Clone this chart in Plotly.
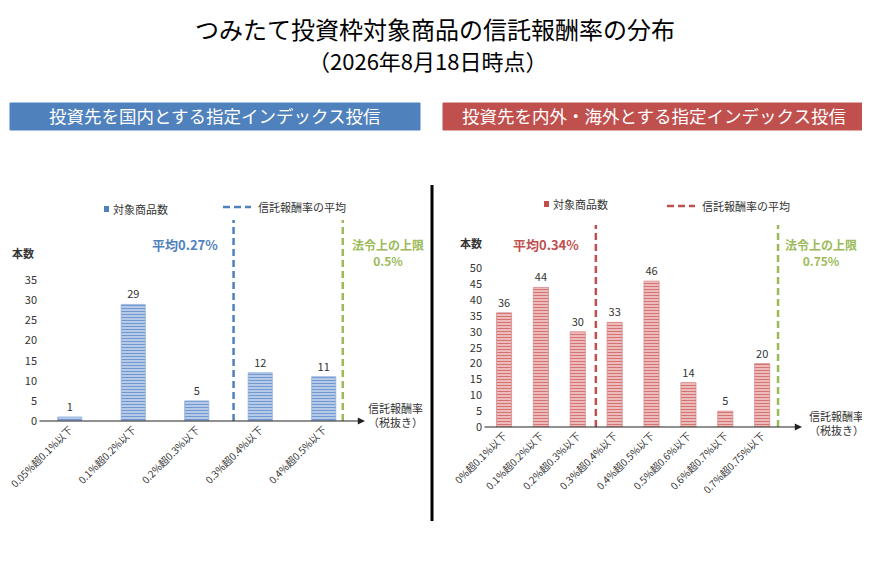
import plotly.graph_objects as pgo
from plotly.subplots import make_subplots

# Data
left_categories = ["0.05%超0.1%以下", "0.1%超0.2%以下", "0.2%超0.3%以下",
                   "0.3%超0.4%以下", "0.4%超0.5%以下"]
left_counts = [1, 29, 5, 12, 11]
left_mean_pos = 2.58     # position of the average line (category units)
left_limit_pos = 4.3     # position of the legal upper limit line

right_categories = ["0%超0.1%以下", "0.1%超0.2%以下", "0.2%超0.3%以下",
                    "0.3%超0.4%以下", "0.4%超0.5%以下", "0.5%超0.6%以下",
                    "0.6%超0.7%以下", "0.7%超0.75%以下"]
right_counts = [36, 44, 30, 33, 46, 14, 5, 20]
right_mean_pos = 2.49
right_limit_pos = 7.43

left_yticks = [0, 5, 10, 15, 20, 25, 30, 35]
right_yticks = [0, 5, 10, 15, 20, 25, 30, 35, 40, 45, 50]

# Page geometry helpers (pixels -> paper)
W, H = 870, 564
OFF = 8  # page body margin, the figure is drawn 8px in from the corner
FONT = "Noto Sans CJK JP"
BLUE = "#4F81BD"
RED = "#C0504D"
GREEN = "#9BBB59"
TXT = "#333333"


def px(x):
    return (x - OFF) / W


def py(y):
    return 1 - (y - OFF) / H


fig = make_subplots(rows=1, cols=2)

# Bars
fig.add_trace(
    pgo.Bar(x=list(range(len(left_counts))), y=left_counts, width=0.38,
            text=left_counts, textposition='outside', cliponaxis=False,
            textfont=dict(size=11, color=TXT),
            marker=dict(line=dict(color="#8FAEDD", width=0.8),
                        pattern=dict(shape='-', bgcolor="#CBDAF0", fgcolor="#7398D0",
                                     size=3, solidity=0.5, fillmode='replace'))),
    row=1, col=1
)
fig.add_trace(
    pgo.Bar(x=list(range(len(right_counts))), y=right_counts, width=0.41,
            text=right_counts, textposition='outside', cliponaxis=False,
            textfont=dict(size=11, color=TXT),
            marker=dict(line=dict(color="#D88A89", width=0.8),
                        pattern=dict(shape='-', bgcolor="#F6D3D3", fgcolor="#D47472",
                                     size=3, solidity=0.5, fillmode='replace'))),
    row=1, col=2
)

# Average and upper limit lines
for pos, color, top, col in [(left_mean_pos, BLUE, 50, 1), (left_limit_pos, GREEN, 50, 1),
                             (right_mean_pos, RED, 63.7, 2), (right_limit_pos, GREEN, 63.7, 2)]:
    fig.add_trace(
        pgo.Scatter(x=[pos, pos], y=[0, top], mode='lines', cliponaxis=False,
                    line=dict(color=color, width=2.5, dash="7px,4px")),
        row=1, col=col
    )

# Axes
fig.update_xaxes(showgrid=False, zeroline=False, showline=False, ticks='', automargin=False,
                 ticklabeloverflow='allow',
                 tickangle=-45, tickfont=dict(size=10, color=TXT, family=FONT))
fig.update_yaxes(showgrid=False, zeroline=False, showline=False, ticks='', automargin=False,
                 tickfont=dict(size=11, color=TXT, family=FONT))

fig.update_layout(
    xaxis=dict(domain=[px(38), px(365)], range=[-0.5, 4.65],
               tickvals=list(range(len(left_categories))), ticktext=left_categories),
    yaxis=dict(domain=[py(421), py(220)], range=[0, 50], tickvals=left_yticks),
    xaxis2=dict(domain=[px(483), px(802)], range=[-0.57, 8.08],
                tickvals=list(range(len(right_categories))), ticktext=right_categories),
    yaxis2=dict(domain=[py(427), py(225)], range=[0, 63.7], tickvals=right_yticks),
)

# x-axis arrows
fig.add_annotation(x=4.65, y=0, ax=-0.5, ay=0, xref='x', yref='y', axref='x', ayref='y',
                   text='', showarrow=True, arrowhead=2, arrowsize=1.2, arrowwidth=1.2,
                   arrowcolor="#222222")
fig.add_annotation(x=8.08, y=0, ax=-0.57, ay=0, xref='x2', yref='y2', axref='x2', ayref='y2',
                   text='', showarrow=True, arrowhead=2, arrowsize=1.2, arrowwidth=1.2,
                   arrowcolor="#222222")

# Header boxes and divider
shapes = [
    dict(type='rect', xref='paper', yref='paper', x0=px(10), x1=px(420), y0=py(130), y1=py(103),
         fillcolor=BLUE, line=dict(color=BLUE, width=1), layer='below'),
    dict(type='rect', xref='paper', yref='paper', x0=px(443), x1=px(865), y0=py(130), y1=py(103),
         fillcolor=RED, line=dict(color=RED, width=1), layer='below'),
    dict(type='line', xref='paper', yref='paper', x0=px(432), x1=px(432), y0=py(521), y1=py(185),
         line=dict(color='black', width=3)),
    # legend keys
    dict(type='rect', xref='paper', yref='paper', x0=px(104), x1=px(109), y0=py(212), y1=py(206),
         fillcolor=BLUE, line=dict(width=0)),
    dict(type='line', xref='paper', yref='paper', x0=px(223), x1=px(251), y0=py(207), y1=py(207),
         line=dict(color=BLUE, width=2.5, dash="7px,4px")),
    dict(type='rect', xref='paper', yref='paper', x0=px(544), x1=px(549), y0=py(207), y1=py(201),
         fillcolor=RED, line=dict(width=0)),
    dict(type='line', xref='paper', yref='paper', x0=px(667), x1=px(695), y0=py(206), y1=py(206),
         line=dict(color=RED, width=2.5, dash="7px,4px")),
]
fig.update_layout(shapes=shapes)


def note(text, x, y, size, color=TXT, xanchor='center'):
    fig.add_annotation(text=text, x=px(x), y=py(y), xref='paper', yref='paper',
                       showarrow=False, xanchor=xanchor, yanchor='middle', align='center',
                       font=dict(size=size, color=color, family=FONT))


# Titles
note("つみたて投資枠対象商品の信託報酬率の分布", 435, 28, 24, 'black')
note("（2026年8月18日時点）", 427, 60, 22, 'black')
note("投資先を国内とする指定インデックス投信", 214, 116, 17.5, 'white')
note("投資先を内外・海外とする指定インデックス投信", 654, 116, 17.5, 'white')

# Left panel texts
note("対象商品数", 111, 209, 11, xanchor='left')
note("信託報酬率の平均", 256, 207, 11, xanchor='left')
note("<b>本数</b>", 23, 253, 11)
note("<b>平均0.27%</b>", 185, 244, 13, BLUE)
note("<b>法令上の上限<br>0.5%</b>", 388, 252, 12, GREEN)
note("信託報酬率<br>（税抜き）", 395, 415, 11)

# Right panel texts
note("対象商品数", 551, 204, 11, xanchor='left')
note("信託報酬率の平均", 700, 206, 11, xanchor='left')
note("<b>本数</b>", 471, 243, 11)
note("<b>平均0.34%</b>", 546, 244, 13, RED)
note("<b>法令上の上限<br>0.75%</b>", 821, 252, 12, GREEN)
note("信託報酬率<br>（税抜き）", 836, 423, 11)

fig.update_layout(
    width=W, height=H, showlegend=False,
    margin=dict(l=0, r=0, t=0, b=0),
    paper_bgcolor='white', plot_bgcolor='white',
    font=dict(family=FONT, color=TXT),
)

fig.write_html("out.html")
